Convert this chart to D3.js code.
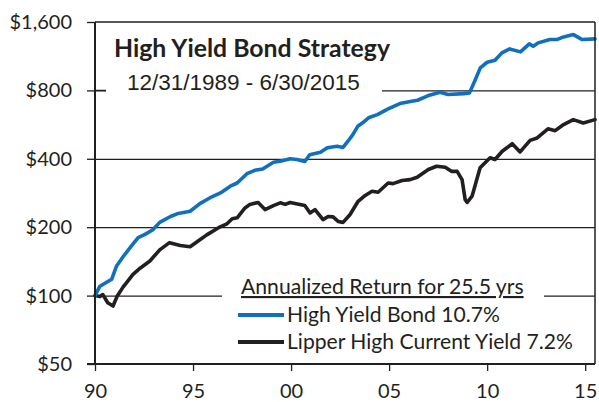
<!DOCTYPE html>
<html>
<head>
<meta charset="utf-8">
<script src="https://cdn.jsdelivr.net/npm/d3@7"></script>
<style>
  body { margin: 0; background: #fff; }
  svg { display: block; }
</style>
</head>
<body>
<div id="chart"></div>
<script>
const w = 599;
const h = 402;

// growth of $100
const hyYears = [1990.0, 1990.25, 1990.85, 1991.1, 1991.45, 1991.85, 1992.2, 1992.55, 1992.95, 1993.3,
    1993.85, 1994.25, 1994.85, 1995.35, 1995.85, 1996.4, 1996.9, 1997.25, 1997.75, 1998.15,
    1998.55, 1999.1, 1999.45, 1999.95, 2000.3, 2000.7, 2000.95, 2001.5, 2001.85, 2002.35,
    2002.65, 2002.9, 2003.15, 2003.4, 2003.65, 2003.95, 2004.4, 2004.95, 2005.55, 2006.15,
    2006.45, 2007.0, 2007.6, 2008.0, 2008.8, 2009.1, 2009.4, 2009.65, 2010.0, 2010.4,
    2010.75, 2011.15, 2011.7, 2012.15, 2012.35, 2012.6, 2013.2, 2013.55, 2013.9, 2014.4,
    2014.85, 2015.5];
const hyValues = [100, 110, 118, 135, 149, 165, 180, 186, 195, 210,
    223, 230, 235, 254, 269, 283, 303, 313, 344, 356,
    361, 386, 390, 400, 397, 389, 417, 427, 447, 454,
    449, 478, 511, 556, 576, 606, 626, 663, 700, 716,
    724, 759, 785, 767, 774, 780, 893, 1005, 1064, 1085,
    1170, 1218, 1182, 1282, 1251, 1295, 1339, 1339, 1376, 1408,
    1339, 1348];

const lipperYears = [1990.0, 1990.25, 1990.4, 1990.65, 1990.92, 1991.12, 1991.43, 1991.94, 1992.3, 1992.8,
    1993.3, 1993.8, 1994.35, 1994.85, 1995.35, 1995.7, 1996.3, 1996.73, 1997.0, 1997.25,
    1997.65, 1997.9, 1998.32, 1998.67, 1999.1, 1999.45, 1999.7, 1999.95, 2000.45, 2000.7,
    2000.97, 2001.22, 2001.63, 2001.89, 2002.14, 2002.4, 2002.65, 2003.0, 2003.42, 2003.78,
    2004.13, 2004.44, 2004.95, 2005.2, 2005.66, 2006.07, 2006.43, 2007.0, 2007.42, 2007.86,
    2008.2, 2008.47, 2008.72, 2008.88, 2008.98, 2009.23, 2009.64, 2010.15, 2010.4, 2010.77,
    2011.28, 2011.68, 2012.19, 2012.55, 2013.1, 2013.47, 2013.9, 2014.39, 2014.9, 2015.5];
const lipperValues = [100, 99, 101, 93, 90, 99, 109, 124, 132, 142,
    159, 171, 166, 164, 176, 185, 199, 207, 218, 220,
    243, 252, 257, 239, 249, 256, 252, 257, 252, 249,
    231, 239, 216, 223, 222, 212, 210, 227, 260, 276,
    288, 285, 313, 311, 321, 324, 332, 359, 371, 367,
    352, 352, 324, 264, 257, 274, 365, 404, 397, 432,
    466, 429, 482, 494, 542, 532, 566, 595, 575, 595];

const yTicks = [50, 100, 200, 400, 800, 1600];
const yTickLabels = ["$50", "$100", "$200", "$400", "$800", "$1,600"];
const xTicks = [1990, 1995, 2000, 2005, 2010, 2015];
const xTickLabels = ["90", "95", "00", "05", "10", "15"];

const seriesNames = ["High Yield Bond 10.7%", "Lipper High Current Yield 7.2%"];
const seriesColors = ["#1070bf", "#231f20"];

const margin = {top: 22, right: 4, bottom: 38, left: 95};
const ink = "#231f20";

const svg = d3.select("#chart").append("svg")
    .attr("width", w)
    .attr("height", h);

const x = d3.scaleLinear()
    .domain([1990, 2015.5])
    .range([margin.left, w - margin.right]);

const y = d3.scaleLog()
    .base(2)
    .domain([50, 1600])
    .range([h - margin.bottom, margin.top]);

// gridlines
svg.append("g")
    .attr("transform", `translate(${margin.left},0)`)
    .call(d3.axisLeft(y).tickValues(yTicks.slice(1, -1)).tickSize(-(w - margin.right - margin.left)).tickFormat(""))
    .call(g => g.select(".domain").remove())
    .call(g => g.selectAll("line").attr("stroke", ink).attr("stroke-width", 1.3));

// white boxes behind title and legend
svg.append("rect").attr("x", 106).attr("y", 32).attr("width", 276).attr("height", 66).attr("fill", "#fff");
svg.append("rect").attr("x", 222).attr("y", 272).attr("width", 322).attr("height", 84).attr("fill", "#fff");

// series
const line = d3.line()
    .x(d => x(d[0]))
    .y(d => y(d[1]));

const series = [
    d3.zip(lipperYears, lipperValues),
    d3.zip(hyYears, hyValues)
];
const seriesCol = [seriesColors[1], seriesColors[0]];

svg.selectAll("path.series")
    .data(series)
    .enter()
    .append("path")
    .attr("class", "series")
    .attr("d", line)
    .attr("fill", "none")
    .attr("stroke", (d, i) => seriesCol[i])
    .attr("stroke-width", 3.6)
    .attr("stroke-linejoin", "round")
    .attr("stroke-linecap", "round");

// y axis
const yAxis = svg.append("g")
    .attr("transform", `translate(${margin.left},0)`)
    .call(d3.axisLeft(y).tickValues(yTicks).tickSize(8).tickPadding(15)
        .tickFormat((d, i) => yTickLabels[i]));
yAxis.select(".domain").remove();
yAxis.selectAll("line").attr("stroke", ink).attr("stroke-width", 1.3);
yAxis.selectAll("text")
    .attr("font-family", "Lato, sans-serif")
    .attr("font-size", "20px")
    .attr("fill", ink);

// top line, extends out to the tick
svg.append("line")
    .attr("x1", margin.left).attr("x2", w - margin.right)
    .attr("y1", y(1600)).attr("y2", y(1600))
    .attr("stroke", ink).attr("stroke-width", 1.3);
// $800 tick pokes inside a bit
svg.append("line")
    .attr("x1", margin.left).attr("x2", 106)
    .attr("y1", y(800)).attr("y2", y(800))
    .attr("stroke", ink).attr("stroke-width", 1.3);

// x axis
const xAxis = svg.append("g")
    .attr("transform", `translate(0,${h - margin.bottom})`)
    .call(d3.axisBottom(x).tickValues(xTicks).tickSize(7).tickPadding(13)
        .tickFormat((d, i) => xTickLabels[i]));
xAxis.select(".domain").remove();
xAxis.selectAll("line").attr("stroke", ink).attr("stroke-width", 1.3);
xAxis.selectAll("text")
    .attr("font-family", "Lato, sans-serif")
    .attr("font-size", "20px")
    .attr("fill", ink);

// frame
svg.append("line")
    .attr("x1", margin.left - 8).attr("x2", w - margin.right)
    .attr("y1", h - margin.bottom).attr("y2", h - margin.bottom)
    .attr("stroke", ink).attr("stroke-width", 2);
svg.append("line")
    .attr("x1", margin.left).attr("x2", margin.left)
    .attr("y1", margin.top).attr("y2", h - margin.bottom)
    .attr("stroke", ink).attr("stroke-width", 2);
svg.append("line")
    .attr("x1", w - margin.right).attr("x2", w - margin.right)
    .attr("y1", margin.top).attr("y2", h - margin.bottom)
    .attr("stroke", ink).attr("stroke-width", 1.5);

// title
svg.append("text")
    .text("High Yield Bond Strategy")
    .attr("x", 114).attr("y", 57)
    .attr("font-family", "Lato, sans-serif")
    .attr("font-weight", "bold")
    .attr("font-size", "24.8px")
    .attr("fill", ink);
svg.append("text")
    .text("12/31/1989 - 6/30/2015")
    .attr("x", 127).attr("y", 90)
    .attr("font-family", "'Liberation Sans', Arial, sans-serif")
    .attr("font-size", "22.5px")
    .attr("fill", ink);

// legend
svg.append("text")
    .text("Annualized Return for 25.5 yrs")
    .attr("x", 241).attr("y", 294)
    .attr("font-family", "Lato, sans-serif")
    .attr("font-size", "21.2px")
    .attr("text-decoration", "underline")
    .attr("fill", ink);

const legend = svg.selectAll("g.legend")
    .data(seriesNames)
    .enter()
    .append("g")
    .attr("class", "legend")
    .attr("transform", (d, i) => `translate(238,${315 + i * 27})`);

legend.append("line")
    .attr("x1", 0).attr("x2", 46)
    .attr("stroke", (d, i) => seriesColors[i])
    .attr("stroke-width", 4);

legend.append("text")
    .text(d => d)
    .attr("x", 49)
    .attr("y", 7)
    .attr("font-family", "Lato, sans-serif")
    .attr("font-size", "21.1px")
    .attr("fill", ink);
</script>
</body>
</html>
